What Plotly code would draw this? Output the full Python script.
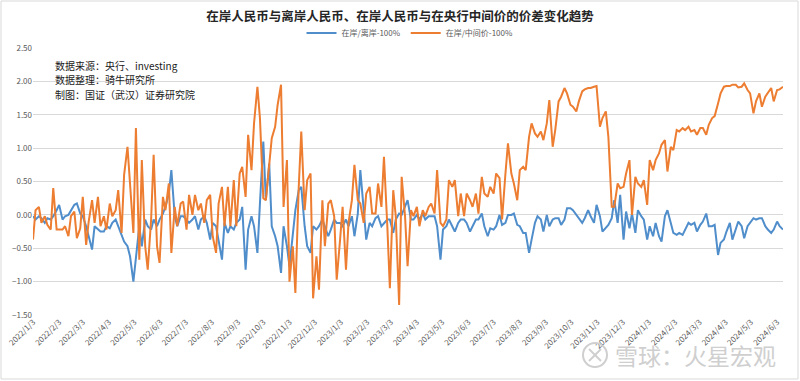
import pandas as pd
import plotly.graph_objects as go

# ---- data ----
mondays = pd.date_range("2022-01-03", "2024-06-10", freq="W-MON")
thursdays = pd.date_range("2022-01-06", "2024-06-06", freq="W-THU")
dates = mondays.union(thursdays)

onshore_offshore = [
    -0.02, -0.07, -0.02, -0.05, -0.12, -0.05, -0.07, -0.02, 0.07, 0.15,
    -0.07, -0.02, 0.00, 0.07, 0.15, 0.17, 0.02, -0.02, -0.17, -0.32,
    -0.52, -0.17, -0.22, -0.25, -0.25, -0.17, -0.20, -0.12, -0.07, -0.17,
    -0.32, -0.40, -0.47, -0.62, -1.00, -0.67, -0.17, -0.47, -0.07, -0.17,
    -0.22, -0.07, -0.17, -0.07, 0.02, 0.12, 0.32, 0.67, -0.02, -0.17,
    -0.02,
    -0.02, -0.07, -0.12, -0.07, -0.02, -0.22, -0.07, -0.02, -0.12,
    -0.37, -0.12, -0.17, -0.37, -0.67, -0.12, -0.27, -0.17, -0.22, -0.12,
    -0.07, 0.12, -0.82, -0.22, -0.02, -0.17, -0.57, 0.17, 1.10, 0.22,
    0.77, -0.17, -0.32, -0.47, -0.87, -0.17, -0.47, -0.77, -0.32, 0.07,
    0.37, 0.42, -0.17, -0.47, -0.57, -0.17, -0.22, -0.17, -0.07, -0.17,
    -0.32, -0.22,
    -0.07, -0.12, -0.12, -0.17, -0.07, -0.17, -0.02, -0.32,
    0.02, 0.67, 0.12, -0.37, -0.12, -0.17, -0.05, -0.02, -0.17, -0.12,
    -0.07, -0.07, -0.27, -0.07, 0.02, 0.00, 0.12, 0.22, -0.07, -0.07,
    0.00, -0.07, 0.02, -0.07, -0.02, -0.02, -0.02, -0.17, -0.67, -0.22,
    -0.17, -0.07, -0.17, -0.25, -0.12, -0.07, -0.07, -0.12, -0.25, -0.17,
    -0.07, -0.07, 0.02,
    -0.17, -0.32, -0.20, -0.22, -0.17, 0.00, -0.15,
    -0.12, 0.00, 0.00, 0.02, -0.15, -0.17, -0.27, -0.27, -0.57, -0.37,
    -0.12, -0.02, -0.07, -0.25, 0.00, -0.17, -0.07, -0.05, -0.05, -0.15,
    -0.07, 0.10, 0.10, 0.07, 0.00, -0.05, -0.12, -0.05, 0.07, -0.02,
    -0.12, 0.15, -0.02, -0.25, -0.20, -0.15, -0.05, 0.22, -0.12, 0.30,
    -0.37, 0.05,
    -0.20, 0.02, -0.27, 0.07, -0.02, -0.07, -0.37, -0.17,
    -0.32, -0.12, -0.32, -0.40, -0.02, 0.07, -0.12, -0.27, -0.30, -0.27,
    -0.30, -0.22, -0.12, -0.15, -0.12, -0.25, -0.15, -0.10, 0.02, -0.17,
    -0.17, -0.15, -0.60, -0.42, -0.37, -0.25, -0.12, -0.37, -0.20, -0.10,
    -0.17, -0.35, -0.17, -0.12, -0.05, -0.07, -0.05, -0.05, -0.17, -0.22,
    -0.27, -0.22, -0.10, -0.17, -0.22,
]

onshore_central = [
    -0.37, 0.07, 0.12, -0.12, -0.02, -0.15, -0.22, 0.40, -0.22, -0.22,
    -0.22, -0.17, -0.32, -0.02, 0.05, -0.35, -0.20, 0.27, -0.45, -0.10,
    0.22, -0.12, 0.27, -0.17, -0.02, -0.22, 0.17, -0.02, 0.07, 0.37,
    -0.27, 0.60, 1.02, 0.47, -0.27, 1.30, -0.67, 0.82, -0.47, -0.82,
    -0.07, 0.90, -0.47, -0.72, 0.27, 0.07, 0.47, -0.57, 0.12, -0.17,
    0.17,
    0.20,
    -0.22, 0.30, 0.00, 0.30, 0.07, 0.17, -0.12, 0.22,
    0.30, -0.32, -0.57, 0.17, 0.42, -0.17, 0.42, -0.17, 0.52, -0.17,
    0.62, 0.72, 0.27, 1.20, 0.67, 1.37, 1.92, 1.45, 0.25, 0.22,
    0.82, 1.15, 1.32, 1.65, 1.95, 0.12, 0.82, -1.00, -0.47, -1.17,
    0.42, 1.25, 0.07, 0.52, 0.62, -1.25, -0.62, -1.12, 0.22, -0.47,
    0.17, 0.22,
    -0.02, -0.97, -0.37, 0.12, -0.82, -0.12, 0.22, 0.75,
    0.22, 0.17, -0.12, 0.32, 0.42, 0.02, 0.02, 0.47, 0.12, 0.87,
    -0.17, -1.10, 0.37, -0.02, -1.35, 0.57, -0.02, -0.77, 0.07, -0.02,
    0.12, -0.17, 0.07, -0.02, 0.12, 0.17, 0.02, 0.67, -0.12, -0.17,
    -0.07, 0.52, 0.42, 0.52, -0.02, 0.32, -0.02, 0.32, 0.22, 0.12,
    0.32, 0.02, 0.57,
    0.32, 0.27, 0.42, 0.32, 0.62, 0.55, -0.07,
    0.62, 1.07, 0.62, 0.47, 0.22, 0.67, 0.72, 0.67, 1.17, 1.37,
    1.22, 1.17, 1.25, 1.12, 1.37, 1.72, 1.02, 1.27, 1.70, 1.77,
    1.90, 1.82, 1.65, 1.62, 1.55, 1.70, 1.85, 1.88, 1.90, 1.90,
    1.92, 1.93, 1.32, 1.45, 1.55, 1.17, 0.12, 0.12, 0.47, 0.40,
    0.42, 0.62,
    0.82, 0.00, 0.57, 0.47, 0.42, 0.52, 0.15, 0.82,
    0.67, 0.82, 0.92, 1.05, 1.12, 0.65, 1.02, 0.97, 1.27, 1.25,
    1.30, 1.27, 1.32, 1.25, 1.27, 1.20, 1.30, 1.30, 1.20, 1.35,
    1.45, 1.48, 1.67, 1.82, 1.92, 1.93, 1.93, 1.95, 1.95, 1.91,
    1.92, 1.97, 1.87, 1.82, 1.52, 1.70, 1.82, 1.62, 1.77, 1.83,
    1.90, 1.70, 1.87, 1.88, 1.92,
]

assert len(dates) == len(onshore_offshore) == len(onshore_central), (
    len(dates), len(onshore_offshore), len(onshore_central))

tick_dates = pd.date_range("2022-01-01", "2024-06-01", freq="MS") + pd.Timedelta(days=2)
tick_labels = [f"{d.year}/{d.month}/{d.day}" for d in tick_dates]

series_names = ["在岸/离岸-100%", "在岸/中间价-100%"]
series_colors = ["#4F8DCB", "#ED7D31"]

title_text = "在岸人民币与离岸人民币、在岸人民币与在央行中间价的价差变化趋势"
notes = ["数据来源：央行、investing", "数据整理：骑牛研究所", "制图：国证（武汉）证券研究院"]
watermark = "雪球：火星宏观"

# ---- figure ----
W, H = 800, 381
L, R, T, B = 33, 17, 48, 66
pw, ph = W - L - R, H - T - B

def px_x(x):
    return (x - L) / pw

def px_y(y):
    return (H - B - y) / ph

font_family = "Noto Sans CJK SC, Noto Sans, sans-serif"

fig = go.Figure()
for name, vals, col in zip(series_names, [onshore_offshore, onshore_central], series_colors):
    fig.add_trace(go.Scatter(x=dates, y=vals, mode="lines", name=name,
                             line=dict(color=col, width=2)))

fig.update_layout(
    width=W, height=H,
    margin=dict(l=L, r=R, t=T, b=B, autoexpand=False),
    paper_bgcolor="white", plot_bgcolor="white",
    font=dict(family=font_family, color="#595959", size=8),
    title=dict(text=f"<b>{title_text}</b>", x=0.5, xanchor="center",
               y=1 - 17 / H, yanchor="middle",
               font=dict(size=12.5, color="#262626", family=font_family)),
    legend=dict(orientation="h", x=px_x(410), xanchor="center",
                y=px_y(33), yanchor="middle",
                font=dict(size=8, color="#595959"),
                itemwidth=30, bgcolor="rgba(0,0,0,0)"),
    showlegend=True,
)

fig.update_yaxes(range=[-1.5, 2.5], dtick=0.5, tick0=0, tickformat=".2f",
                 showgrid=True, gridcolor="#d9d9d9", gridwidth=1,
                 zeroline=False, showline=False, ticks="",
                 tickfont=dict(size=8, color="#595959"))
fig.update_xaxes(type="date", range=[dates[0], dates[-1]],
                 tickvals=tick_dates, ticktext=tick_labels, tickangle=-45,
                 showgrid=False, zeroline=False, showline=False, ticks="",
                 tickfont=dict(size=8, color="#595959"))

for i, t in enumerate(notes):
    fig.add_annotation(text=t, xref="paper", yref="paper",
                       x=px_x(53), y=px_y(65 + 14.5 * i), xanchor="left", yanchor="middle",
                       showarrow=False, font=dict(size=10, color="#1a1a1a", family=font_family))

fig.add_annotation(text=watermark, xref="paper", yref="paper",
                   x=px_x(695), y=px_y(355), xanchor="center", yanchor="middle",
                   showarrow=False, font=dict(size=23, color="#cfcfcf", family=font_family))
# watermark logo: ring with a cross
fig.add_shape(type="circle", xref="paper", yref="paper",
              x0=px_x(583), x1=px_x(607), y0=px_y(367), y1=px_y(343),
              line=dict(color="#cfcfcf", width=2))
fig.add_shape(type="line", xref="paper", yref="paper",
              x0=px_x(589), x1=px_x(601), y0=px_y(361), y1=px_y(349),
              line=dict(color="#cfcfcf", width=2))
fig.add_shape(type="line", xref="paper", yref="paper",
              x0=px_x(589), x1=px_x(601), y0=px_y(349), y1=px_y(361),
              line=dict(color="#cfcfcf", width=2))

# outer border of the chart area
fig.add_shape(type="rect", xref="paper", yref="paper",
              x0=px_x(1), x1=px_x(W - 2), y0=px_y(H - 2), y1=px_y(1),
              line=dict(color="#d9d9d9", width=1), layer="below")

fig.write_html("out.html", config={"displayModeBar": False},
               post_script="document.body.style.margin='0';document.body.style.padding='0';")
